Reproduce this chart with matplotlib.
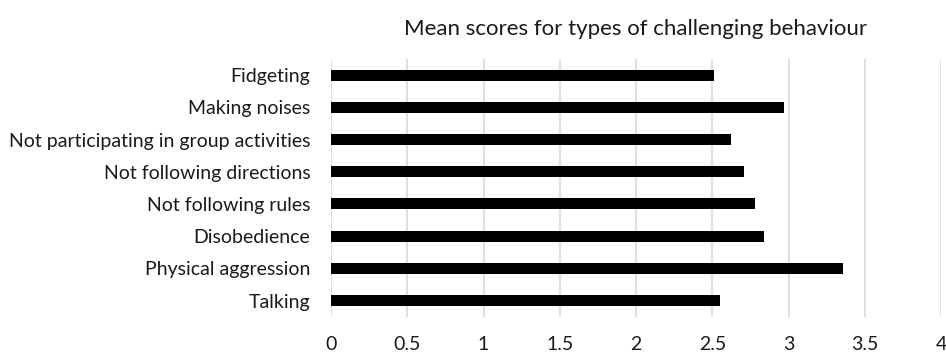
import matplotlib
matplotlib.use("Agg")
import matplotlib.pyplot as plt

categories = [
    "Fidgeting",
    "Making noises",
    "Not participating in group activities",
    "Not following directions",
    "Not following rules",
    "Disobedience",
    "Physical aggression",
    "Talking",
]
mean_scores = [2.51, 2.97, 2.62, 2.71, 2.78, 2.84, 3.36, 2.55]
x_ticks = [0, 0.5, 1, 1.5, 2, 2.5, 3, 3.5, 4]
x_tick_labels = ["0", "0.5", "1", "1.5", "2", "2.5", "3", "3.5", "4"]

plt.rcParams["font.family"] = ["Lato", "DejaVu Sans"]

fig = plt.figure(figsize=(9.46, 3.53), dpi=100)
ax = fig.add_axes([0.350, 0.1028, 0.6447, 0.7301])

ypos = list(range(len(categories)))
ax.barh(ypos, mean_scores, height=0.34, color="black", zorder=3)

ax.set_ylim(len(categories) - 0.5, -0.5)
ax.set_xlim(0, 4)
ax.set_yticks(ypos)
ax.set_yticklabels(categories, fontsize=14, color="#1a1a1a")
ax.set_xticks(x_ticks)
ax.set_xticklabels(x_tick_labels, fontsize=14, color="#1a1a1a")
ax.tick_params(axis="both", length=0)
ax.tick_params(axis="y", pad=15)
ax.tick_params(axis="x", pad=14)

ax.grid(axis="x", color="#d9d9d9", linewidth=1.2, zorder=0)
for s in ax.spines.values():
    s.set_visible(False)

ax.set_title("Mean scores for types of challenging behaviour", fontsize=16,
             color="#1a1a1a", pad=17)

fig.savefig("out.png", dpi=100)
plt.close(fig)
